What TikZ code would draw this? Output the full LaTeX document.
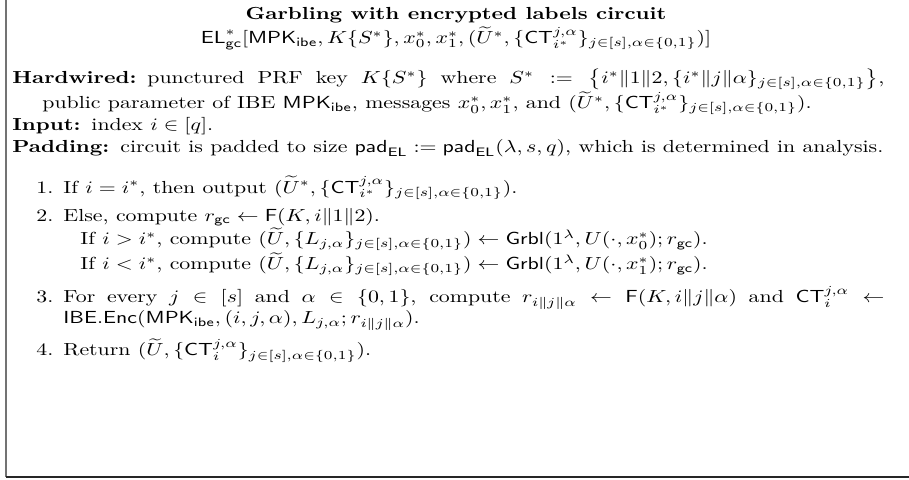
\documentclass[tikz,border=0pt]{standalone}
\usepackage{amsmath,amssymb}
\newlength\padw
\newcommand{\padline}{\textbf{Padding:}\hspace{0.5em}circuit is padded to size $\mathsf{pad}_{\mathsf{EL}} := \mathsf{pad}_{\mathsf{EL}}(\lambda, s, q)$, which is determined in analysis.}
\newcommand{\sset}{_{j\in[s],\alpha\in\{0,1\}}}
\AtBeginDocument{\settowidth\padw{\normalfont\normalsize\padline}\global\padw=\padw}
\begin{document}
\begin{tikzpicture}
\pgfmathsetmacro\u{\padw/871}
\pgfmathsetlengthmacro\T{872*\u pt}
\pgfmathsetlengthmacro\hind{30*\u pt}
\pgfmathsetlengthmacro\lm{51*\u pt}
\pgfmathsetlengthmacro\ls{10*\u pt}
\pgfmathsetlengthmacro\subind{17*\u pt}
\begin{scope}[x=\u pt,y=-\u pt,
  ctr/.style={anchor=base,inner sep=0pt},
  bodytext/.style={anchor=base west,inner sep=0pt,text width=\T,align=justify}]
\useasboundingbox (0,0) rectangle (909,480);
\coordinate (tl) at (6,0);
\coordinate (bl) at (6,477);
\coordinate (br) at (909,477);
\draw[black!55,line width=1.6*\u pt] (tl) -- (bl);
\draw[black!85,line width=1.4*\u pt] (bl) -- (br);
\begin{scope}[transform canvas={yscale=0.8}]
\node[ctr] (title) at (456,24) {\textbf{Garbling with encrypted labels circuit}};
\node[ctr,yshift=-14pt] (sig) at (456,24) {$\mathsf{EL}^*_{\mathsf{gc}}[\mathsf{MPK}_{\mathsf{ibe}}, K\{S^*\}, x_0^*, x_1^*, (\widetilde{U}^*, \{\mathsf{CT}^{j,\alpha}_{i^*}\}\sset)]$};
\node[bodytext,yshift=-37pt] (body) at (12,24) {%
\setlength\parindent{0pt}\setlength\parskip{0pt}%
{\hangindent=\hind\hangafter=1 \textbf{Hardwired:}\hspace{0.5em}punctured PRF key $K\{S^*\}$ where $S^* := \left\{i^*\|1\|2, \{i^*\|j\|\alpha\}\sset\right\}$,\linebreak public parameter of IBE $\mathsf{MPK}_{\mathsf{ibe}}$, messages $x_0^*, x_1^*$, and $(\widetilde{U}^*, \{\mathsf{CT}^{j,\alpha}_{i^*}\}\sset)$.\par}
\vspace{0.5pt}
\textbf{Input:}\hspace{0.5em}index $i \in [q]$.\par
\vspace{0.5pt}
\padline\par
\vspace{10pt}
{\leftskip=\lm
\noindent\llap{1.\hspace{\ls}}If $i = i^*$, then output $(\widetilde{U}^*, \{\mathsf{CT}^{j,\alpha}_{i^*}\}\sset)$.\par
\vspace{4pt}
\noindent\llap{2.\hspace{\ls}}Else, compute $r_{\mathsf{gc}} \leftarrow \mathsf{F}(K, i\|1\|2)$.\\
\hspace*{\subind}If $i > i^*$, compute $(\widetilde{U}, \{L_{j,\alpha}\}\sset) \leftarrow \mathsf{Grbl}(1^\lambda, U(\cdot, x_0^*); r_{\mathsf{gc}})$.\\
\hspace*{\subind}If $i < i^*$, compute $(\widetilde{U}, \{L_{j,\alpha}\}\sset) \leftarrow \mathsf{Grbl}(1^\lambda, U(\cdot, x_1^*); r_{\mathsf{gc}})$.\par
\vspace{5pt}
\noindent\llap{3.\hspace{\ls}}For every $j \in [s]$ and $\alpha \in \{0,1\}$, compute $r_{i\|j\|\alpha} \leftarrow \mathsf{F}(K, i\|j\|\alpha)$ and $\mathsf{CT}^{j,\alpha}_i \leftarrow$\linebreak $\mathsf{IBE.Enc}(\mathsf{MPK}_{\mathsf{ibe}}, (i,j,\alpha), L_{j,\alpha}; r_{i\|j\|\alpha})$.\par
\vspace{4pt}
\noindent\llap{4.\hspace{\ls}}Return $(\widetilde{U}, \{\mathsf{CT}^{j,\alpha}_i\}\sset)$.\par}%
};
\end{scope}
\end{scope}
\end{tikzpicture}
\end{document}
